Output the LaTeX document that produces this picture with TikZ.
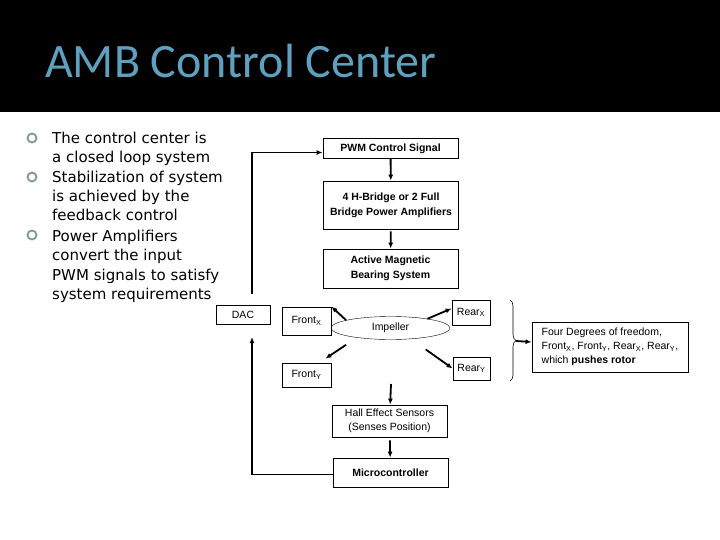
\documentclass[tikz,border=0pt]{standalone}
\usepackage{fontspec}
\setmainfont{DejaVu Sans}
\newfontfamily\titlefont{Carlito}
\newfontfamily\boxfont{Liberation Sans}
\usetikzlibrary{shapes.geometric,decorations.pathreplacing,arrows.meta}
\definecolor{titleblue}{RGB}{94,160,190}
\definecolor{bulletgray}{RGB}{125,150,155}

\begin{document}
\begin{tikzpicture}[x=1pt,y=-1pt,>={Latex[length=6pt,width=5pt]}]
  \tikzstyle{block}=[draw,line width=0.8pt,rectangle,inner sep=1pt,align=center,font=\boxfont\fontsize{10.5}{15}\selectfont\bfseries]
  \tikzstyle{plain block}=[draw,line width=0.8pt,rectangle,inner sep=1pt,align=center,font=\boxfont\fontsize{10.5}{14}\selectfont]
  \tikzstyle{flow}=[->,line width=1.8pt]
  \tikzstyle{bullet}=[circle,draw=bulletgray,line width=1.8pt,minimum size=9pt,inner sep=0pt]
  \tikzstyle{item}=[anchor=base west,inner sep=0pt,font=\fontsize{15}{19}\selectfont]

  % Background and title bar
  \fill[white] (0,0) rectangle (720,540);
  \fill[black] (0,0) rectangle (720,112);
  \node[anchor=base west,inner sep=0pt,text=titleblue,
    font=\titlefont\fontsize{48}{56}\selectfont] (title) at (45,78) {AMB Control Center};

  % Draw the bullet list
  \foreach \name / \y in {1/138,2/177,3/235}
  \node[bullet] (B-\name) at (32,\y) {};

  \foreach \name / \y / \txt in {1/138/The control center is,2/157/a closed loop system,
    3/177/Stabilization of system,4/196/is achieved by the,5/215/feedback control,
    6/235/Power Amplifiers,7/254/convert the input,8/274/PWM signals to satisfy,
    9/293/system requirements}
  \node[item] (L-\name) at (52,\y+6) {\txt};

  % Draw the forward path
  \node[block,minimum width=135pt,minimum height=20pt] (pwm) at (390.5,148.5) {PWM Control Signal};
  \node[block,minimum width=135pt,minimum height=48pt] (hbridge) at (391,205) {4 H-Bridge or 2 Full\\Bridge Power Amplifiers};
  \node[block,minimum width=135pt,minimum height=39pt] (amb) at (390.5,268.5) {Active Magnetic\\Bearing System};

  % Draw the bearing axes round the impeller
  \node[plain block,minimum width=54pt,minimum height=19pt] (dac) at (243,315) {DAC};
  \node[plain block,minimum width=49pt,minimum height=28pt] (frontx) at (306.5,321) {Front\textsubscript{X}};
  \node[plain block,minimum width=49pt,minimum height=24pt] (fronty) at (306.5,375) {Front\textsubscript{Y}};
  \node[plain block,minimum width=38pt,minimum height=25pt] (rearx) at (471,312.5) {Rear\textsubscript{X}};
  \node[plain block,minimum width=37pt,minimum height=23pt] (reary) at (471.5,368.5) {Rear\textsubscript{Y}};
  \node[draw,ellipse,minimum width=119pt,minimum height=23pt,inner sep=0pt,
    font=\boxfont\fontsize{10.5}{12}\selectfont] (imp) at (390.5,328) {Impeller};

  % Draw the feedback path
  \node[plain block,minimum width=115pt,minimum height=32pt] (hall) at (389.5,421) {Hall Effect Sensors\\(Senses Position)};
  \node[block,minimum width=115pt,minimum height=29pt] (micro) at (390.5,472.5) {Microcontroller};

  \node[plain block,align=left,minimum width=156pt,minimum height=50pt,inner sep=5pt] (four) at (610,347)
    {Four Degrees of freedom,\\Front\textsubscript{X}, Front\textsubscript{Y}, Rear\textsubscript{X}, Rear\textsubscript{Y},\\which \textbf{pushes rotor}};

  \coordinate (hallin) at (391,384);
  \coordinate (dacin) at (252,337);
  \coordinate (dacout) at (252,294);
  \coordinate (bracetop) at (510,300);
  \coordinate (bracebot) at (510,381);
  \coordinate (bracetip) at (516,341);

  % Connect nodes
  \draw[flow] (pwm) -- (hbridge);
  \draw[flow,shorten <=2pt] (hbridge) -- (amb);
  \draw[flow] (imp.170) -- (frontx.north east);
  \draw[flow] (imp.14) -- ([yshift=4pt]rearx.west);
  \draw[flow] ([yshift=-9pt]imp.190) -- ([xshift=-6pt,yshift=4pt]fronty.north east);
  \draw[flow] ([yshift=-12pt]imp.345) -- (reary.west);
  \draw[flow] (hallin) -- (hall);
  \draw[flow,shorten <=3pt] (hall) -- (micro);
  \draw[flow] ([yshift=-2pt]micro.west) -| (dacin);
  \draw[flow] (dacout) |- ([yshift=-4pt]pwm.west);
  \draw[line width=0.6pt,decorate,decoration={brace,amplitude=6pt}] (bracetop) -- (bracebot);
  \draw[flow] (bracetip) -- (four);
\end{tikzpicture}
\end{document}
